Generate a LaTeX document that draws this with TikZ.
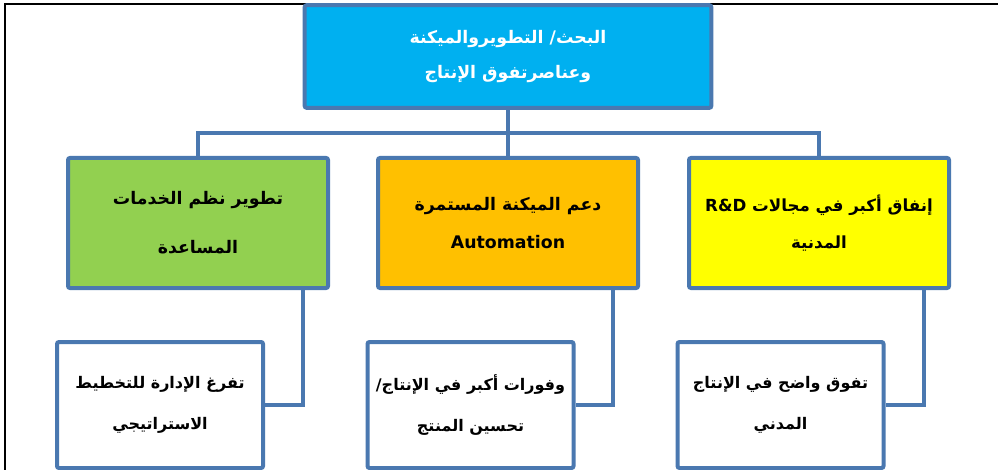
\documentclass[tikz,border=0pt]{standalone}
\usepackage{fontspec}
\newfontfamily\arabicfont[Script=Arabic]{DejaVu Sans}
\TeXXeTstate=1
\definecolor{linkblue}{RGB}{74,120,176}
\definecolor{topblue}{RGB}{0,176,240}
\definecolor{aidgreen}{RGB}{146,208,80}
\definecolor{autoorange}{RGB}{255,192,0}
\definecolor{rdyellow}{RGB}{255,255,0}

\tikzset{every picture/.style={line width=0.75pt}}
\tikzset{
  unit/.style={draw=linkblue, line width=3pt, rounded corners=1.5pt, align=center, inner sep=0pt},
  head/.style={unit, fill=topblue, text=white, minimum width=305pt, minimum height=77pt,
    font=\arabicfont\bfseries\fontsize{13}{26}\selectfont},
  branch/.style={unit, minimum width=195pt, minimum height=97.5pt,
    font=\arabicfont\bfseries\fontsize{13}{28}\selectfont},
  result/.style={unit, fill=white, minimum width=154.5pt, minimum height=94.5pt,
    font=\arabicfont\bfseries\fontsize{12}{31}\selectfont},
  link/.style={draw=linkblue, line width=3pt},
}

\begin{document}
\begin{tikzpicture}[x=0.75pt,y=0.75pt,yscale=-1,xscale=1]
\useasboundingbox (0,0) rectangle (998,470);

%Frame
\draw [line width=1.5pt] (5,470) -- (5,4) -- (998,4) ;

%Boxes
\node [head] (head) at (508,56.5) {\beginR البحث/ التطويروالميكنة\endR\\ \beginR وعناصرتفوق الإنتاج\endR};
\node [branch, fill=aidgreen, font=\arabicfont\bfseries\fontsize{13}{37}\selectfont] (aid) at (198,223) {\beginR تطوير نظم الخدمات\endR\\ \beginR المساعدة\endR};
\node [branch, fill=autoorange] (auto) at (508,223) {\beginR دعم الميكنة المستمرة\endR\\ Automation};
\node [branch, fill=rdyellow, font=\arabicfont\bfseries\fontsize{12.5}{28}\selectfont] (rd) at (819,223) {\beginR إنفاق أكبر في مجالات \beginL R\&D\endL\endR\\ \beginR المدنية\endR};
\node [result] (plan) at (160,405) {\beginR تفرغ الإدارة للتخطيط\endR\\ \beginR الاستراتيجي\endR};
\node [result] (save) at (470.5,405) {\beginR وفورات أكبر في الإنتاج/\endR\\ \beginR تحسين المنتج\endR};
\node [result] (civil) at (780.5,405) {\beginR تفوق واضح في الإنتاج\endR\\ \beginR المدني\endR};

%Connectors
\coordinate (bus) at (508,133);
\draw [link] (head.south) -- (auto.north) ;
\draw [link] (aid.north) |- (bus) -| (rd.north) ;
\draw [link] ([xshift=-20pt]aid.south east) |- (plan.east) ;
\draw [link] ([xshift=-20pt]auto.south east) |- (save.east) ;
\draw [link] ([xshift=-20pt]rd.south east) |- (civil.east) ;

\end{tikzpicture}
\end{document}
